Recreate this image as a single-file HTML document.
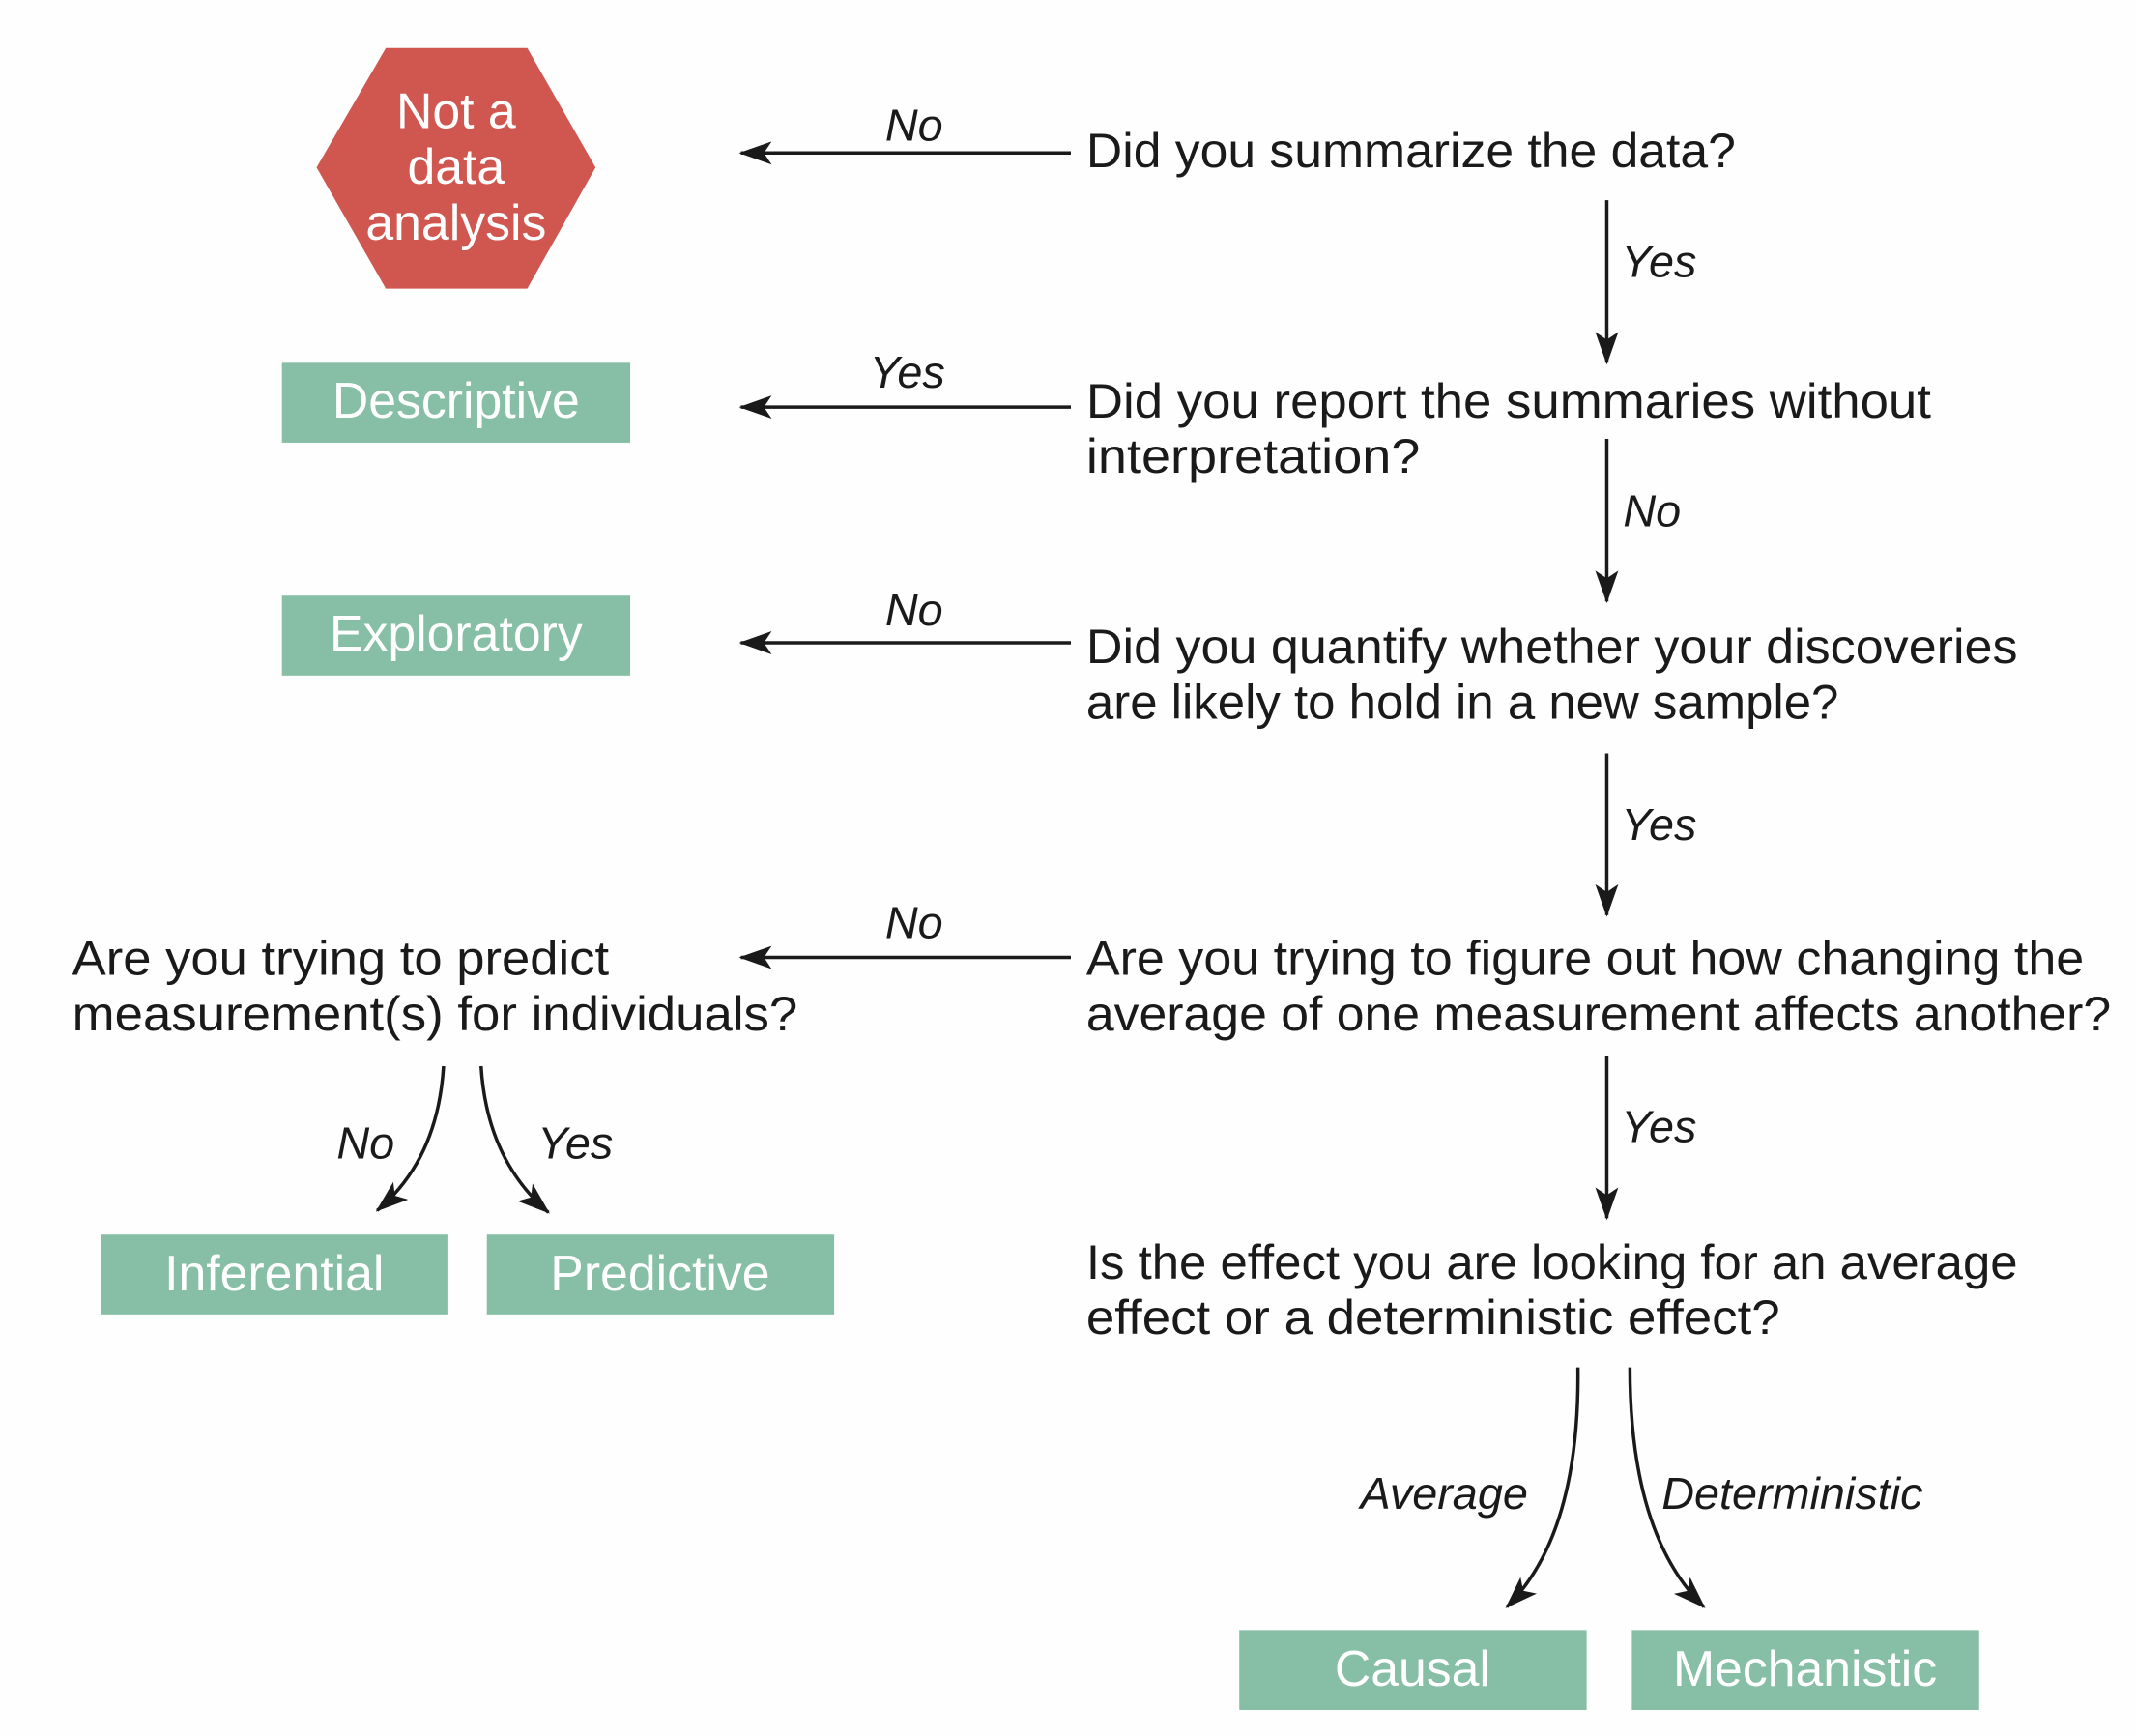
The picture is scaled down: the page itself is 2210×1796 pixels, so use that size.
<!DOCTYPE html>
<html><head><meta charset="utf-8"><style>
html,body{margin:0;padding:0;background:#fff;}
svg{display:block;}
text{font-family:"Liberation Sans Narrow","Liberation Sans",sans-serif;}
.q{font-size:50px;fill:#1a1a1a;}
.l{font-size:47px;fill:#1a1a1a;font-style:italic;}
.b{font-size:52px;fill:#fff;}
</style></head><body>
<svg width="2210" height="1796" viewBox="0 0 2210 1796" xmlns="http://www.w3.org/2000/svg">
<defs>
<marker id="ah2" markerUnits="userSpaceOnUse" markerWidth="34" markerHeight="26" refX="32" refY="12" orient="auto" viewBox="0 0 34 24">
<path d="M34,12 L0,0 L8,12 L0,24 Z" fill="#1a1a1a"/>
</marker>
</defs>
<rect width="2210" height="1796" fill="#fefefe"/>
<g transform="scale(0.9955)">

<polygon points="329,174 401,50 548,50 619,174 548,300 401,300" fill="#d05750"/>
<text class="b" x="474" y="133" text-anchor="middle">Not a</text>
<text class="b" x="474" y="191" text-anchor="middle">data</text>
<text class="b" x="474" y="249" text-anchor="middle">analysis</text>

<rect x="293" y="377" width="362" height="83" fill="#86bfa5"/>
<text class="b" x="474" y="434" text-anchor="middle">Descriptive</text>
<rect x="293" y="619" width="362" height="83" fill="#86bfa5"/>
<text class="b" x="474" y="676" text-anchor="middle">Exploratory</text>
<rect x="105" y="1283" width="361" height="83" fill="#86bfa5"/>
<text class="b" x="285" y="1341" text-anchor="middle">Inferential</text>
<rect x="506" y="1283" width="361" height="83" fill="#86bfa5"/>
<text class="b" x="686" y="1341" text-anchor="middle">Predictive</text>
<rect x="1288" y="1694" width="361" height="83" fill="#86bfa5"/>
<text class="b" x="1468" y="1752" text-anchor="middle">Causal</text>
<rect x="1696" y="1694" width="361" height="83" fill="#86bfa5"/>
<text class="b" x="1876" y="1752" text-anchor="middle">Mechanistic</text>

<text class="q" x="1129" y="174" textLength="675" lengthAdjust="spacingAndGlyphs">Did you summarize the data?</text>
<text class="q" x="1129" y="434" textLength="878" lengthAdjust="spacingAndGlyphs">Did you report the summaries without</text>
<text class="q" x="1129" y="491" textLength="347" lengthAdjust="spacingAndGlyphs">interpretation?</text>
<text class="q" x="1129" y="689" textLength="968" lengthAdjust="spacingAndGlyphs">Did you quantify whether your discoveries</text>
<text class="q" x="1129" y="747" textLength="782" lengthAdjust="spacingAndGlyphs">are likely to hold in a new sample?</text>
<text class="q" x="1129" y="1013" textLength="1037" lengthAdjust="spacingAndGlyphs">Are you trying to figure out how changing the</text>
<text class="q" x="1129" y="1071" textLength="1065" lengthAdjust="spacingAndGlyphs">average of one measurement affects another?</text>
<text class="q" x="75" y="1013" textLength="558" lengthAdjust="spacingAndGlyphs">Are you trying to predict</text>
<text class="q" x="75" y="1071" textLength="754" lengthAdjust="spacingAndGlyphs">measurement(s) for individuals?</text>
<text class="q" x="1129" y="1329" textLength="968" lengthAdjust="spacingAndGlyphs">Is the effect you are looking for an average</text>
<text class="q" x="1129" y="1386" textLength="721" lengthAdjust="spacingAndGlyphs">effect or a deterministic effect?</text>

<g stroke="#1a1a1a" stroke-width="3.5" fill="none">
<line x1="1113" y1="159" x2="770" y2="159" marker-end="url(#ah2)"/>
<line x1="1113" y1="423" x2="770" y2="423" marker-end="url(#ah2)"/>
<line x1="1113" y1="668" x2="770" y2="668" marker-end="url(#ah2)"/>
<line x1="1113" y1="995" x2="770" y2="995" marker-end="url(#ah2)"/>
<line x1="1670" y1="208" x2="1670" y2="377" marker-end="url(#ah2)"/>
<line x1="1670" y1="456" x2="1670" y2="625" marker-end="url(#ah2)"/>
<line x1="1670" y1="783" x2="1670" y2="951" marker-end="url(#ah2)"/>
<line x1="1670" y1="1097" x2="1670" y2="1266" marker-end="url(#ah2)"/>
<path d="M461,1108 Q455,1205 392,1258" marker-end="url(#ah2)"/>
<path d="M500,1108 Q506,1205 570,1260" marker-end="url(#ah2)"/>
<path d="M1640,1421 Q1642,1595 1566,1670" marker-end="url(#ah2)"/>
<path d="M1694,1421 Q1694,1595 1771,1670" marker-end="url(#ah2)"/>
</g>

<text class="l" x="950" y="146" text-anchor="middle">No</text>
<text class="l" x="943" y="403" text-anchor="middle">Yes</text>
<text class="l" x="950" y="650" text-anchor="middle">No</text>
<text class="l" x="950" y="975" text-anchor="middle">No</text>
<text class="l" x="1685" y="288">Yes</text>
<text class="l" x="1687" y="547">No</text>
<text class="l" x="1685" y="873">Yes</text>
<text class="l" x="1685" y="1187">Yes</text>
<text class="l" x="380" y="1204" text-anchor="middle">No</text>
<text class="l" x="598" y="1204" text-anchor="middle">Yes</text>
<text class="l" x="1588" y="1568" text-anchor="end">Average</text>
<text class="l" x="1727" y="1568">Deterministic</text>
</g>
</svg>
</body></html>
